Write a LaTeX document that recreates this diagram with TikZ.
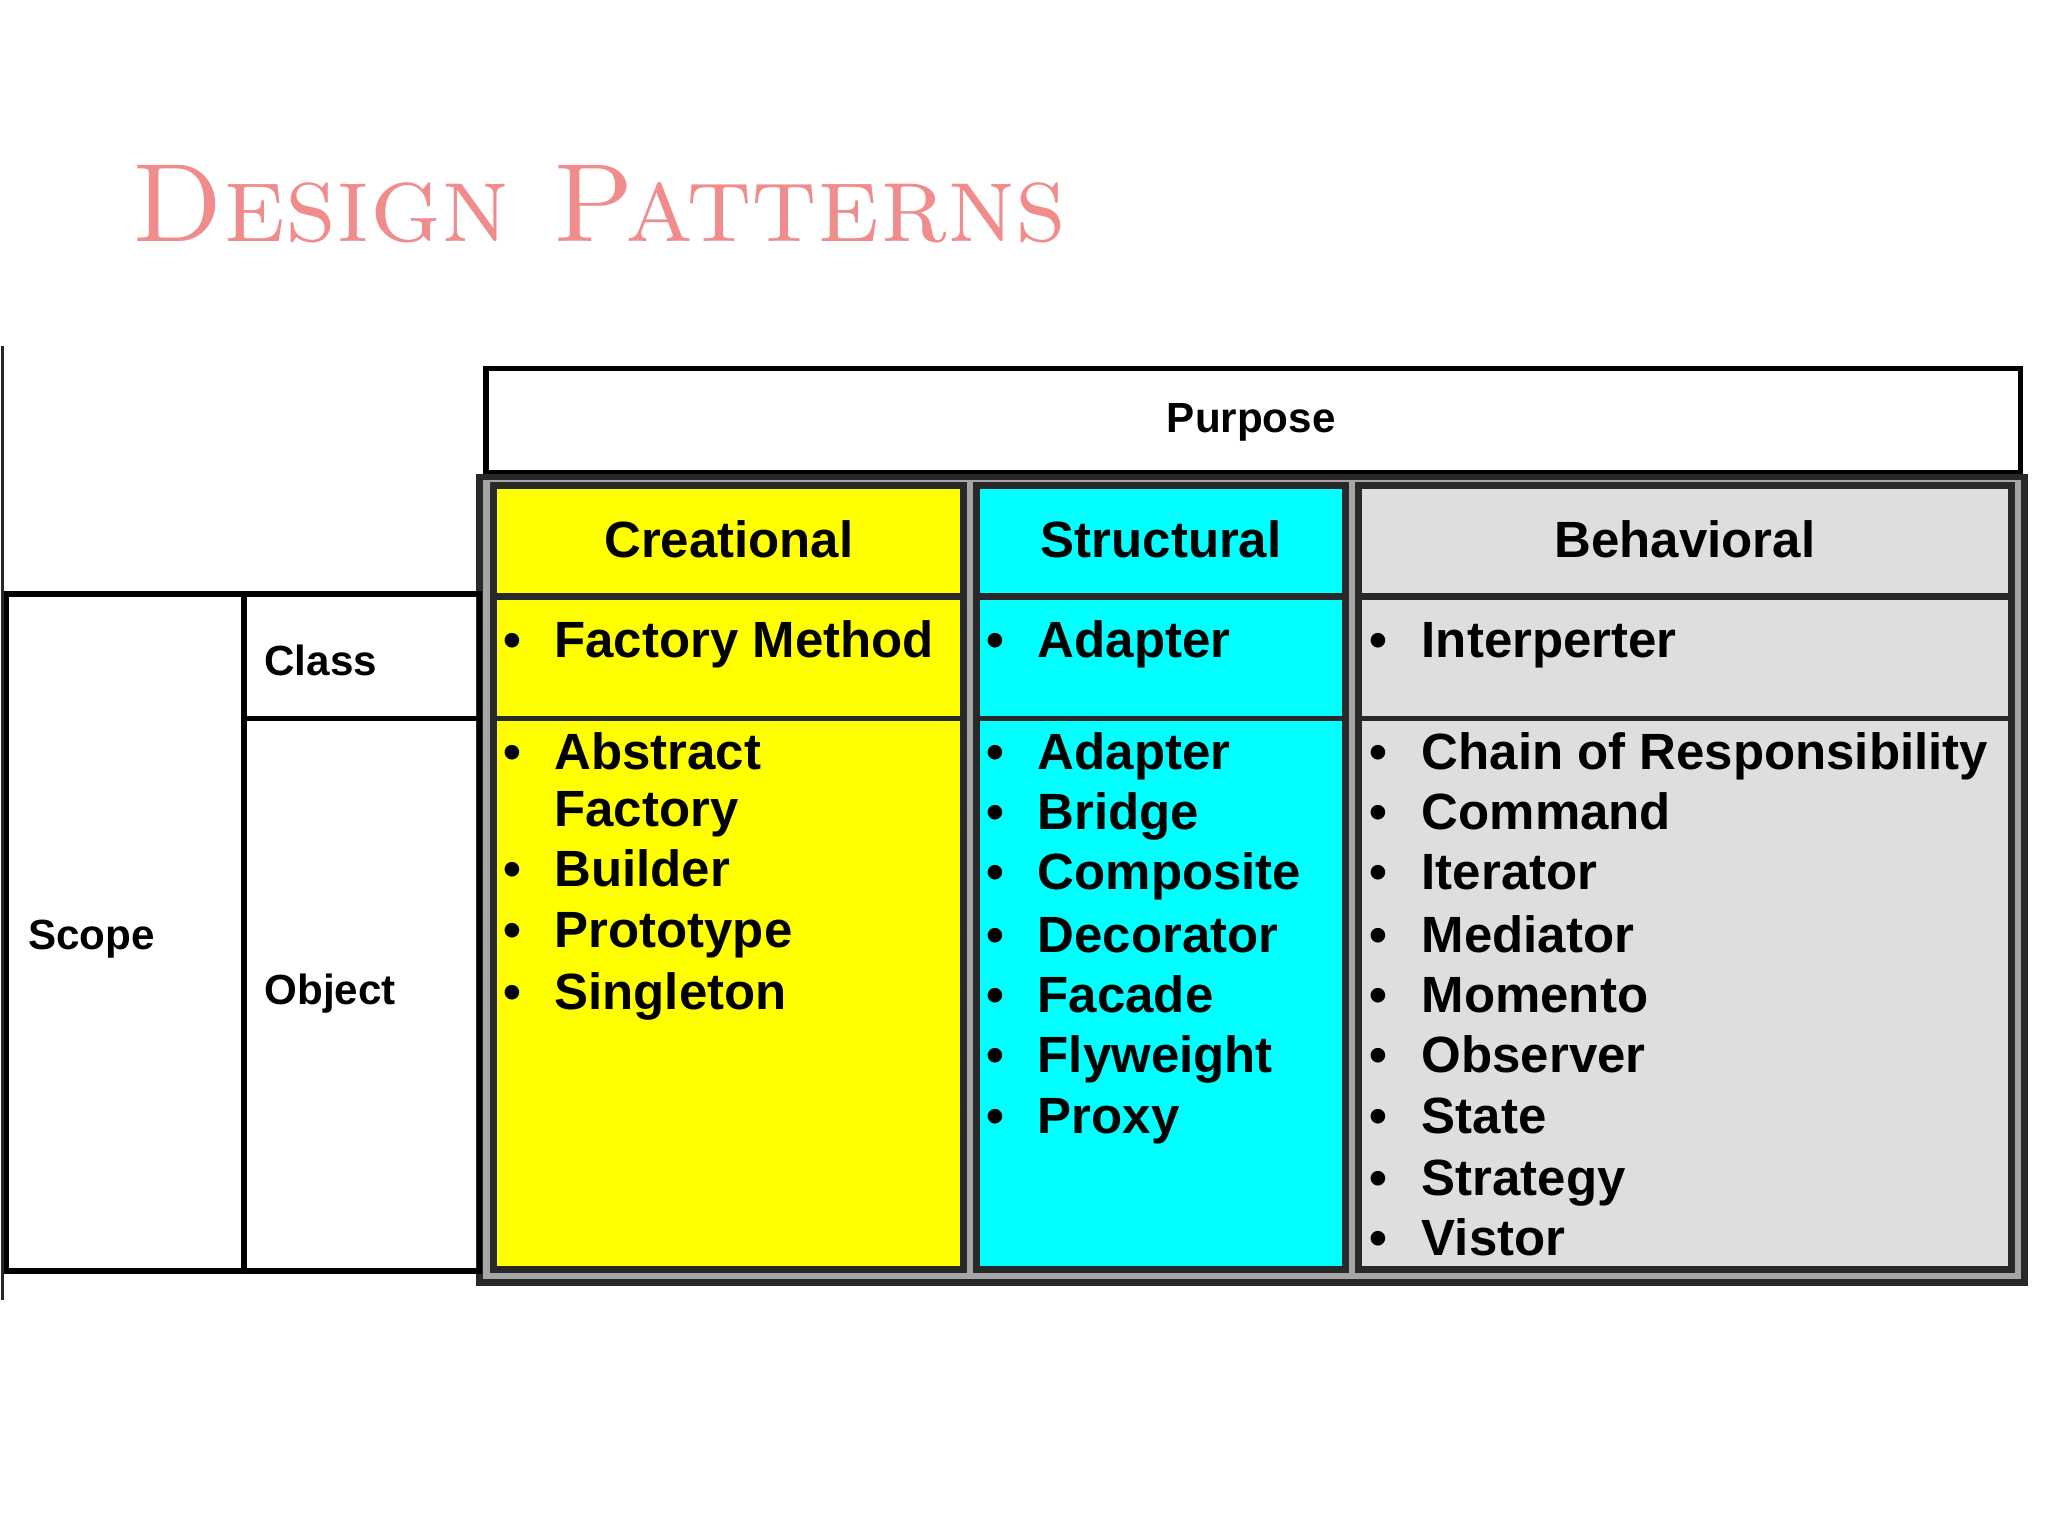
\documentclass[tikz,border=0pt]{standalone}
\usepackage{fontspec}
\setsansfont{Liberation Sans}
\definecolor{cy}{RGB}{0,255,255}
\definecolor{ye}{RGB}{255,255,0}
\definecolor{gr}{RGB}{222,222,222}
\definecolor{pk}{RGB}{240,140,140}
\definecolor{bd}{RGB}{40,40,40}
\begin{document}
\begin{tikzpicture}[x=0.013061cm,y=-0.013061cm,
  hd/.style={font=\sffamily\bfseries\fontsize{14.5}{17}\selectfont},
  it/.style={anchor=west,font=\sffamily\bfseries\fontsize{14.5}{17}\selectfont,text height=10.5pt,text depth=3pt,inner sep=0pt},
  lb/.style={anchor=west,font=\sffamily\bfseries\fontsize{12}{15}\selectfont},
  colb/.style={line width=2pt,draw=bd}]
\useasboundingbox[fill=white] (0,0) rectangle (1568,1176);
\node[anchor=base west,text=pk,font=\fontsize{31.7}{36}\selectfont\scshape,inner sep=0pt] (title) at (100,185) {Design Patterns};
\draw[line width=0.8pt,bd] (2,265) -- (2,995);
\draw[line width=1.6pt] (372,282) rectangle (1547,362);
\node[lb,anchor=center] (purpose) at (958,323) {Purpose};
\draw[line width=1.8pt,draw=bd,fill=gray!70] (367,365) rectangle (1550,982);
\fill[ye] (378,372) rectangle (738,972);
\fill[cy] (748,372) rectangle (1030,972);
\fill[gr] (1040,372) rectangle (1540,972);
\draw[colb] (378,372) rectangle (738,972) (748,372) rectangle (1030,972) (1040,372) rectangle (1540,972);
\draw[colb] (378,457) -- (738,457) (748,457) -- (1030,457) (1040,457) -- (1540,457);
\draw[line width=1.3pt,bd] (378,550) -- (738,550) (748,550) -- (1030,550) (1040,550) -- (1540,550);
\node[hd] (cre) at (558,413) {Creational};
\node[hd] (str) at (889,413) {Structural};
\node[hd] (beh) at (1290,413) {Behavioral};
\draw[line width=1.6pt] (5,455) rectangle (187,973);
\draw[line width=1.6pt] (187,455) rectangle (367,550) (187,550) rectangle (367,973);
\node[lb] (scope) at (12,719) {Scope};
\node[lb] (class) at (193,506) {Class};
\node[lb] (object) at (193,761) {Object};
\foreach \y/\t in {493/Factory Method,579/Abstract,669/Builder,715/Prototype,763/Singleton}
  {\node[it] at (385,\y) {\textbullet}; \node[it] at (424,\y) {\t};}
\node[it] (fac) at (424,623) {Factory};
\foreach \y/\t in {493/Adapter,579/Adapter,625/Bridge,671/Composite,719/Decorator,765/Facade,811/Flyweight,858/Proxy}
  {\node[it] at (755,\y) {\textbullet}; \node[it] at (794,\y) {\t};}
\foreach \y/\t in {493/Interperter,579/Chain of Responsibility,625/Command,671/Iterator,719/Mediator,765/Momento,811/Observer,858/State,905/Strategy,951/Vistor}
  {\node[it] at (1048,\y) {\textbullet}; \node[it] at (1088,\y) {\t};}
\end{tikzpicture}
\end{document}
